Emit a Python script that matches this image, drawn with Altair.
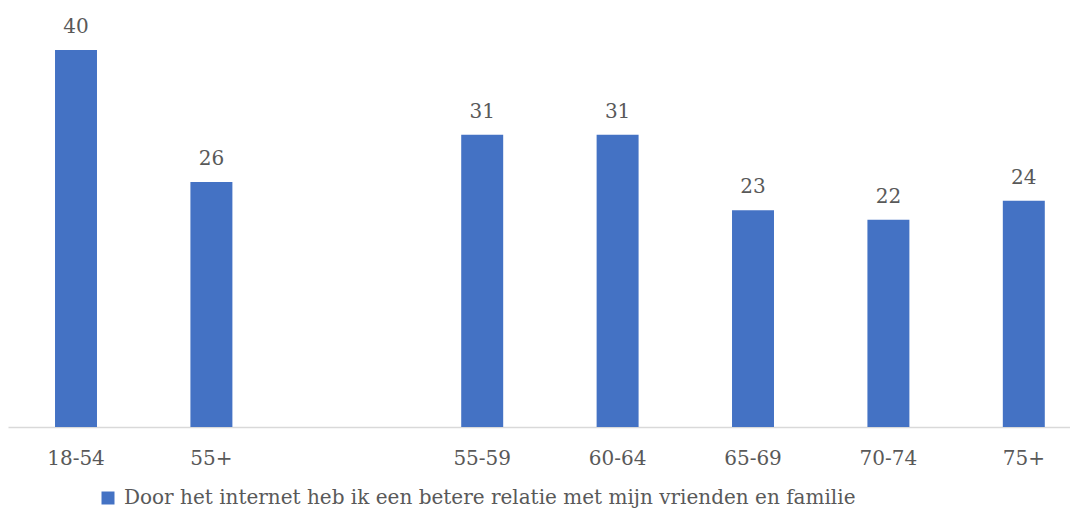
import altair as alt
import pandas as pd

categories = ["18-54", "55+", " ", "55-59", "60-64", "65-69", "70-74", "75+"]
bar_categories = ["18-54", "55+", "55-59", "60-64", "65-69", "70-74", "75+"]
values = [40, 26, 31, 31, 23, 22, 24]
series_name = "Door het internet heb ik een betere relatie met mijn vrienden en familie"

df = pd.DataFrame({"cat": bar_categories, "val": values, "series": series_name})

FONT = "DejaVu Serif"
GREY = "#595959"
BLUE = "#4472C4"

x = alt.X(
    "cat:N",
    sort=categories,
    scale=alt.Scale(domain=categories, paddingInner=0.69, paddingOuter=0.2667, align=0.651),
    axis=alt.Axis(
        title=None, labelAngle=0, ticks=False, labelPadding=37, labelBaseline="alphabetic",
        labelFont=FONT, labelFontSize=20, labelColor=GREY,
        domainColor="#D9D9D9", domainWidth=1.5,
    ),
)
y = alt.Y("val:Q", scale=alt.Scale(domain=[0, 44.46], nice=False), axis=None)

bars = alt.Chart(df).mark_bar(color=BLUE).encode(
    x=x, y=y,
    color=alt.Color(
        "series:N",
        scale=alt.Scale(range=[BLUE]),
        legend=alt.Legend(
            title=None, orient="none", legendX=90, legendY=480, padding=0,
            symbolType="square", symbolSize=169, symbolStrokeWidth=0,
            labelFont=FONT, labelFontSize=20, labelColor=GREY, labelLimit=0,
            symbolOffset=0, labelOffset=6,
        ),
    ),
)
labels = alt.Chart(df).mark_text(
    dy=-17, baseline="alphabetic", font=FONT, fontSize=20, color=GREY
).encode(x=x, y=y, text=alt.Text("val:Q"))

chart = (bars + labels).properties(
    width=1062, height=419,
    autosize=alt.AutoSizeParams(type="none"),
    padding={"left": 0, "top": 0, "right": 0, "bottom": 85},
).configure_view(stroke=None)

chart.save("out.html", embed_options={"renderer": "svg", "actions": False})
